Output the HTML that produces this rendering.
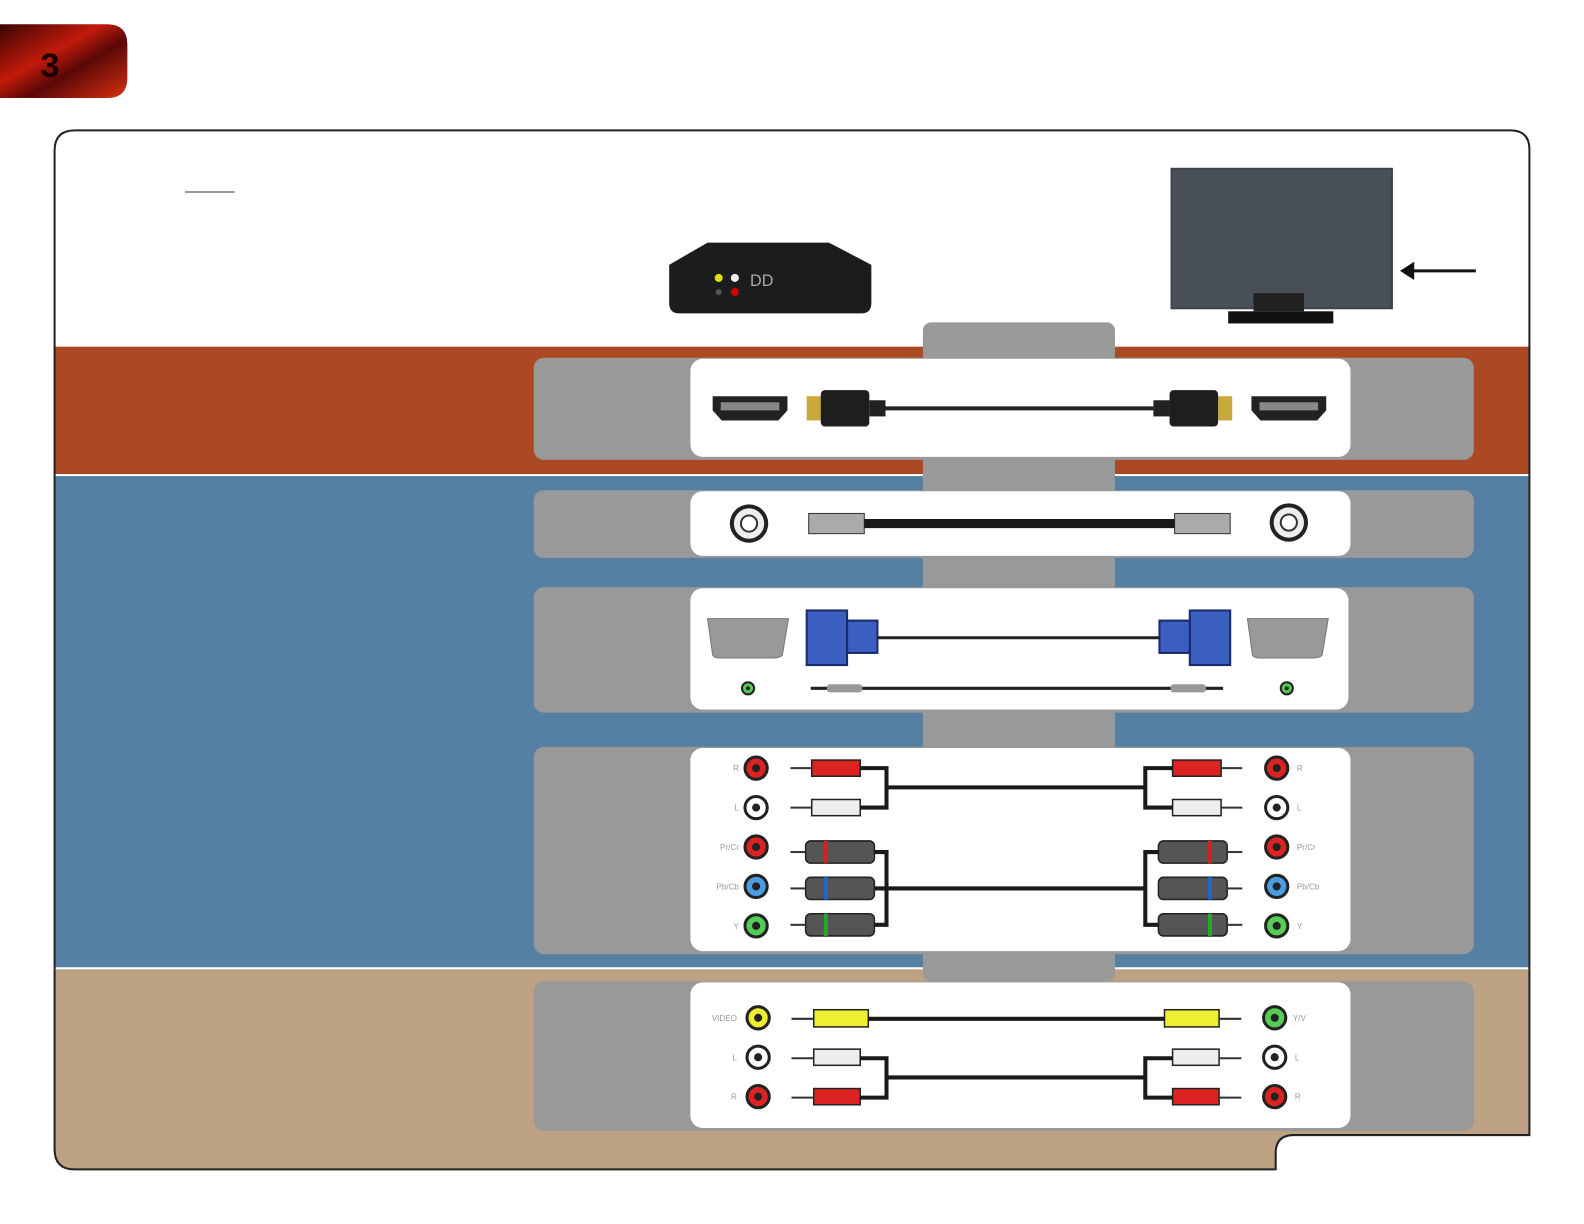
<!DOCTYPE html>
<html><head><meta charset="utf-8"><style>
html,body{margin:0;padding:0;background:#fff;overflow:hidden;width:1584px;height:1224px}
svg{display:block}
text{font-family:"Liberation Sans",sans-serif;fill:#999;font-size:8px}
</style></head><body>
<svg width="1584" height="1224" viewBox="0 0 1567 1211" preserveAspectRatio="none" xmlns="http://www.w3.org/2000/svg">
<defs>
<linearGradient id="lg" x1="0" y1="0" x2="1" y2="1">
<stop offset="0" stop-color="#3a0505"/><stop offset="0.4" stop-color="#c21a0a"/><stop offset="0.6" stop-color="#5a0808"/><stop offset="1" stop-color="#d8300f"/></linearGradient>
<clipPath id="fr"><path d="M74,129 H1494 Q1513,129 1513,148 V1123 H1280 Q1262,1123 1262,1141 V1157 H74 Q54,1157 54,1137 V149 Q54,129 74,129 Z"/></clipPath>
</defs>
<path d="M0,24 H106 Q126,24 126,44 V77 Q126,97 106,97 H0 Z" fill="url(#lg)"/>
<text x="40" y="76" style="font-size:34px;fill:#1a0000;font-weight:bold">3</text>
<g clip-path="url(#fr)">
<rect x="54" y="129" width="1460" height="1030" fill="#fff"/>
<rect x="54" y="343" width="1460" height="126" fill="#ab4a22"/>
<rect x="54" y="471" width="1460" height="486" fill="#5580a3"/>
<rect x="54" y="959" width="1460" height="200" fill="#bca283"/>
</g>
<path d="M74,129 H1494 Q1513,129 1513,148 V1123 H1280 Q1262,1123 1262,1141 V1157 H74 Q54,1157 54,1137 V149 Q54,129 74,129 Z" fill="none" stroke="#222" stroke-width="2"/>
<line x1="183" y1="190" x2="232" y2="190" stroke="#333" stroke-width="1"/>
<rect x="913" y="319" width="190" height="652" rx="8" fill="#999"/>
<g fill="#999">
<rect x="528" y="354" width="930" height="101" rx="10"/>
<rect x="528" y="485" width="930" height="67" rx="10"/>
<rect x="528" y="581" width="930" height="124" rx="10"/>
<rect x="528" y="739" width="930" height="205" rx="10"/>
<rect x="528" y="971" width="930" height="148" rx="10"/>
</g>
<g fill="#fff">
<rect x="683" y="355" width="653" height="97" rx="12"/>
<rect x="683" y="486" width="653" height="64" rx="12"/>
<rect x="683" y="582" width="651" height="120" rx="12"/>
<rect x="683" y="740" width="653" height="201" rx="12"/>
<rect x="683" y="972" width="653" height="144" rx="12"/>
</g>
<path d="M700,240 H820 L862,262 V300 Q862,310 852,310 H672 Q662,310 662,300 V262 Z" fill="#1c1c1c"/>
<circle cx="711" cy="275" r="4" fill="#dd0"/><circle cx="727" cy="275" r="4" fill="#eee"/><circle cx="727" cy="289" r="4" fill="#c00"/><circle cx="711" cy="289" r="3" fill="#555"/>
<text x="742" y="283" style="font-size:16px;fill:#aaa">DD</text>
<rect x="1158" y="166" width="220" height="140" fill="#3e444c"/>
<rect x="1160" y="168" width="216" height="136" fill="#4a5058"/>
<rect x="1240" y="290" width="50" height="18" fill="#222"/>
<rect x="1215" y="308" width="104" height="12" fill="#111"/>
<line x1="1460" y1="268" x2="1398" y2="268" stroke="#111" stroke-width="3"/>
<path d="M1385,268 L1399,259 L1399,277 Z" fill="#111"/>
<g>
<path d="M705,392 H779 V406 L770,416 H714 L705,406 Z" fill="#222"/><rect x="713" y="398" width="58" height="8" fill="#888"/>
<path d="M1238,392 H1312 V406 L1303,416 H1247 L1238,406 Z" fill="#222"/><rect x="1246" y="398" width="58" height="8" fill="#888"/>
<rect x="798" y="392" width="16" height="24" fill="#c9a93c"/><rect x="812" y="386" width="48" height="36" rx="4" fill="#1e1e1e"/><rect x="860" y="396" width="16" height="16" fill="#222"/>
<rect x="1203" y="392" width="16" height="24" fill="#c9a93c"/><rect x="1157" y="386" width="48" height="36" rx="4" fill="#1e1e1e"/><rect x="1141" y="396" width="16" height="16" fill="#222"/>
<line x1="876" y1="404" x2="1141" y2="404" stroke="#222" stroke-width="4"/>
</g>
<circle cx="741" cy="518" r="19" fill="#222"/><circle cx="741" cy="518" r="15" fill="#eee"/><circle cx="741" cy="518" r="8" fill="#fff" stroke="#333" stroke-width="2"/>
<circle cx="1275" cy="517" r="19" fill="#222"/><circle cx="1275" cy="517" r="15" fill="#eee"/><circle cx="1275" cy="517" r="8" fill="#fff" stroke="#333" stroke-width="2"/>
<rect x="800" y="508" width="55" height="20" fill="#aaa" stroke="#333"/><rect x="1162" y="508" width="55" height="20" fill="#aaa" stroke="#333"/>
<line x1="855" y1="518" x2="1162" y2="518" stroke="#1a1a1a" stroke-width="9"/>
<path d="M700,612 H780 L774,648 Q772,651 765,651 H712 Q706,651 705,648 Z" fill="#999" stroke="#777"/>
<path d="M1234,612 H1314 L1308,648 Q1306,651 1299,651 H1246 Q1240,651 1239,648 Z" fill="#999" stroke="#777"/>
<rect x="798" y="604" width="40" height="54" fill="#3a5fc0" stroke="#1a2a6a" stroke-width="2"/><rect x="838" y="614" width="30" height="32" fill="#3a5fc0" stroke="#1a2a6a" stroke-width="2"/>
<rect x="1177" y="604" width="40" height="54" fill="#3a5fc0" stroke="#1a2a6a" stroke-width="2"/><rect x="1147" y="614" width="30" height="32" fill="#3a5fc0" stroke="#1a2a6a" stroke-width="2"/>
<line x1="868" y1="631" x2="1147" y2="631" stroke="#222" stroke-width="3"/>
<circle cx="740" cy="681" r="7" fill="#222"/><circle cx="740" cy="681" r="5" fill="#5c5"/><circle cx="740" cy="681" r="2" fill="#222"/>
<circle cx="1273" cy="681" r="7" fill="#222"/><circle cx="1273" cy="681" r="5" fill="#5c5"/><circle cx="1273" cy="681" r="2" fill="#222"/>
<line x1="802" y1="681" x2="1210" y2="681" stroke="#222" stroke-width="3"/>
<rect x="818" y="677" width="35" height="8" rx="3" fill="#999"/><rect x="1158" y="677" width="35" height="8" rx="3" fill="#999"/>
<g stroke="#222" stroke-width="3">
<circle cx="748" cy="760" r="11" fill="#d22"/><circle cx="748" cy="799" r="11" fill="#fff"/><circle cx="748" cy="838" r="11" fill="#d22"/><circle cx="748" cy="877" r="11" fill="#4a9de0"/><circle cx="748" cy="916" r="11" fill="#5c5"/>
<circle cx="1263" cy="760" r="11" fill="#d22"/><circle cx="1263" cy="799" r="11" fill="#fff"/><circle cx="1263" cy="838" r="11" fill="#d22"/><circle cx="1263" cy="877" r="11" fill="#4a9de0"/><circle cx="1263" cy="916" r="11" fill="#5c5"/>
<circle cx="750" cy="1007" r="11" fill="#ee3"/><circle cx="750" cy="1046" r="11" fill="#fff"/><circle cx="750" cy="1085" r="11" fill="#d22"/>
<circle cx="1261" cy="1007" r="11" fill="#5c5"/><circle cx="1261" cy="1046" r="11" fill="#fff"/><circle cx="1261" cy="1085" r="11" fill="#d22"/>
</g>
<g fill="#222">
<circle cx="748" cy="760" r="4"/><circle cx="748" cy="799" r="4"/><circle cx="748" cy="838" r="4"/><circle cx="748" cy="877" r="4"/><circle cx="748" cy="916" r="4"/>
<circle cx="1263" cy="760" r="4"/><circle cx="1263" cy="799" r="4"/><circle cx="1263" cy="838" r="4"/><circle cx="1263" cy="877" r="4"/><circle cx="1263" cy="916" r="4"/>
<circle cx="750" cy="1007" r="4"/><circle cx="750" cy="1046" r="4"/><circle cx="750" cy="1085" r="4"/>
<circle cx="1261" cy="1007" r="4"/><circle cx="1261" cy="1046" r="4"/><circle cx="1261" cy="1085" r="4"/>
</g>
<g text-anchor="end"><text x="731" y="763">R</text><text x="731" y="802">L</text><text x="731" y="841">Pr/Cr</text><text x="731" y="880">Pb/Cb</text><text x="731" y="919">Y</text>
<text x="729" y="1010">VIDEO</text><text x="729" y="1049">L</text><text x="729" y="1088">R</text></g>
<text x="1283" y="763">R</text><text x="1283" y="802">L</text><text x="1283" y="841">Pr/Cr</text><text x="1283" y="880">Pb/Cb</text><text x="1283" y="919">Y</text>
<text x="1279" y="1010">Y/V</text><text x="1281" y="1049">L</text><text x="1281" y="1088">R</text>
<g stroke="#222" stroke-width="1.5">
<rect x="803" y="752" width="48" height="16" fill="#d22"/><rect x="803" y="791" width="48" height="16" fill="#eee"/>
<rect x="1160" y="752" width="48" height="16" fill="#d22"/><rect x="1160" y="791" width="48" height="16" fill="#eee"/>
<rect x="797" y="832" width="68" height="22" rx="5" fill="#555"/><rect x="797" y="868" width="68" height="22" rx="5" fill="#555"/><rect x="797" y="904" width="68" height="22" rx="5" fill="#555"/>
<rect x="1146" y="832" width="68" height="22" rx="5" fill="#555"/><rect x="1146" y="868" width="68" height="22" rx="5" fill="#555"/><rect x="1146" y="904" width="68" height="22" rx="5" fill="#555"/>
<rect x="805" y="999" width="54" height="17" fill="#ee3"/><rect x="805" y="1038" width="46" height="16" fill="#eee"/><rect x="805" y="1077" width="46" height="16" fill="#d22"/>
<rect x="1152" y="999" width="54" height="17" fill="#ee3"/><rect x="1160" y="1038" width="46" height="16" fill="#eee"/><rect x="1160" y="1077" width="46" height="16" fill="#d22"/>
</g>
<g fill="#c22"><rect x="815" y="832" width="4" height="22"/><rect x="1195" y="832" width="4" height="22"/></g>
<g fill="#26c"><rect x="815" y="868" width="4" height="22"/><rect x="1195" y="868" width="4" height="22"/></g>
<g fill="#2a2"><rect x="815" y="904" width="4" height="22"/><rect x="1195" y="904" width="4" height="22"/></g>
<g stroke="#333" stroke-width="2">
<line x1="782" y1="760" x2="803" y2="760"/><line x1="782" y1="799" x2="803" y2="799"/><line x1="782" y1="843" x2="797" y2="843"/><line x1="782" y1="879" x2="797" y2="879"/><line x1="782" y1="915" x2="797" y2="915"/>
<line x1="1208" y1="760" x2="1229" y2="760"/><line x1="1208" y1="799" x2="1229" y2="799"/><line x1="1214" y1="843" x2="1229" y2="843"/><line x1="1214" y1="879" x2="1229" y2="879"/><line x1="1214" y1="915" x2="1229" y2="915"/>
<line x1="783" y1="1008" x2="805" y2="1008"/><line x1="783" y1="1047" x2="805" y2="1047"/><line x1="783" y1="1086" x2="805" y2="1086"/>
<line x1="1206" y1="1008" x2="1228" y2="1008"/><line x1="1206" y1="1047" x2="1228" y2="1047"/><line x1="1206" y1="1086" x2="1228" y2="1086"/>
</g>
<g fill="none" stroke="#1a1a1a" stroke-width="4">
<path d="M851,760 H877 V799 H851 M877,779 H1133 M1160,760 H1133 V799 H1160"/>
<path d="M865,843 H877 V915 H865 M865,879 H1133 M1146,843 H1133 V915 H1146"/>
<path d="M859,1008 H1152"/>
<path d="M851,1047 H877 V1086 H851 M877,1066 H1133 M1160,1047 H1133 V1086 H1160"/>
</g>
</svg>
</body></html>
